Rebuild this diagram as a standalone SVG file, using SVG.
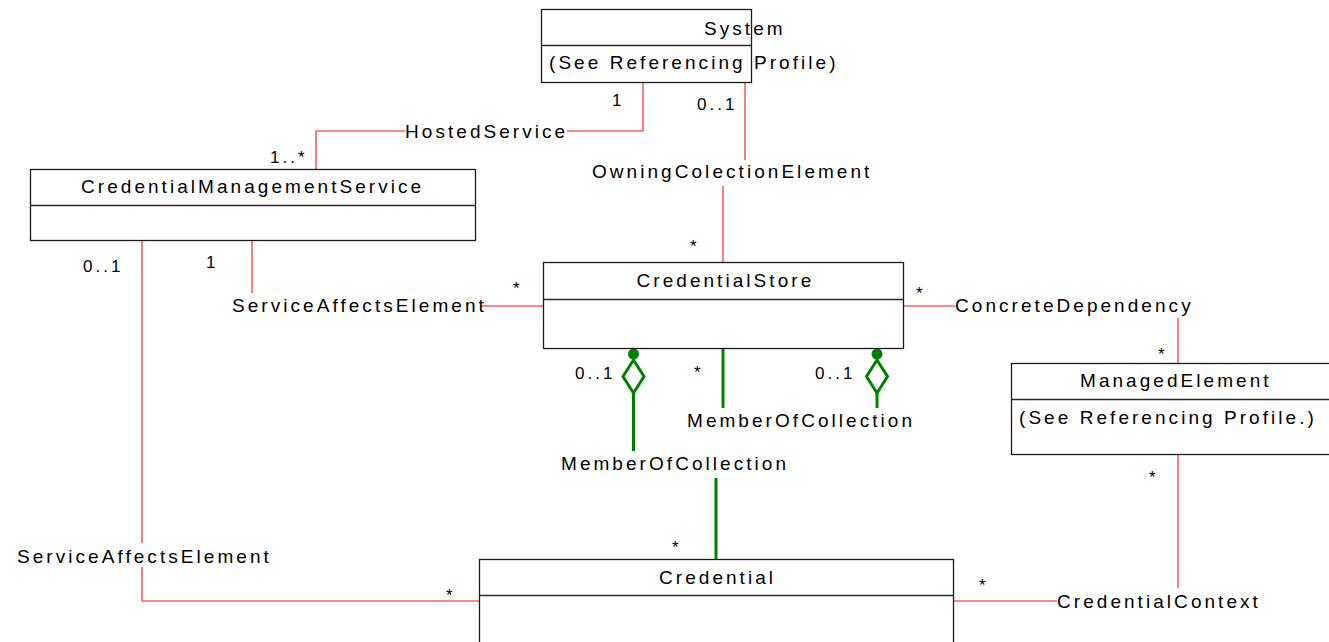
<svg xmlns="http://www.w3.org/2000/svg" width="1329" height="642" viewBox="0 0 1329 642">
  <style>
    .box { fill: #ffffff; stroke: #1a1a1a; stroke-width: 1.3; }
    .div { stroke: #2a2a2a; stroke-width: 1.3; }
    .t { font-family: "Liberation Sans", Arial, sans-serif; font-size: 19px; letter-spacing: 3.05px; fill: #000000; }
    .m { font-family: "Liberation Sans", Arial, sans-serif; font-size: 17px; letter-spacing: 3px; fill: #000000; }
    .assoc { fill: none; stroke: #f01818; stroke-width: 1.1; }
    .agg { fill: none; stroke: #008000; stroke-width: 3; }
    .aggfill { fill: #008000; }
  </style>
  <rect width="1329" height="642" fill="#ffffff"/>

  <!-- association and aggregation lines -->
  <g id="connectors">
    <!-- HostedService -->
    <polyline class="assoc" points="643,82 643,131 567,131"/>
    <polyline class="assoc" points="405,131 316,131 316,169"/>
    <text class="t" x="405" y="137.5">HostedService</text>
    <text class="m" x="612" y="106">1</text>
    <text class="m" x="270" y="163">1..*</text>

    <!-- OwningColectionElement -->
    <line class="assoc" x1="745" y1="82" x2="745" y2="160"/>
    <line class="assoc" x1="723" y1="186" x2="723" y2="262"/>
    <text class="t" x="592" y="178">OwningColectionElement</text>
    <text class="m" x="697" y="110">0..1</text>
    <text class="m" x="690" y="252">*</text>

    <!-- ServiceAffectsElement to CredentialStore -->
    <line class="assoc" x1="252" y1="241" x2="252" y2="293"/>
    <line class="assoc" x1="481" y1="306" x2="543" y2="306"/>
    <text class="t" x="232" y="312">ServiceAffectsElement</text>
    <text class="m" x="206" y="268">1</text>
    <text class="m" x="513" y="294">*</text>

    <!-- ServiceAffectsElement to Credential -->
    <line class="assoc" x1="142" y1="241" x2="142" y2="543"/>
    <polyline class="assoc" points="142,567 142,601 479,601"/>
    <text class="t" x="17" y="562.5">ServiceAffectsElement</text>
    <text class="m" x="83" y="272">0..1</text>
    <text class="m" x="446" y="601">*</text>

    <!-- ConcreteDependency -->
    <line class="assoc" x1="903" y1="306" x2="955" y2="306"/>
    <line class="assoc" x1="1178" y1="318" x2="1178" y2="363"/>
    <text class="t" x="955" y="312">ConcreteDependency</text>
    <text class="m" x="916" y="299">*</text>
    <text class="m" x="1158" y="360">*</text>

    <!-- CredentialContext -->
    <line class="assoc" x1="1178" y1="455" x2="1178" y2="588"/>
    <line class="assoc" x1="953" y1="601" x2="1057" y2="601"/>
    <text class="t" x="1057" y="607.5">CredentialContext</text>
    <text class="m" x="1149" y="483">*</text>
    <text class="m" x="979" y="591">*</text>

    <!-- MemberOfCollection: CredentialStore to Credential -->
    <circle class="aggfill" cx="633.5" cy="354" r="5.5"/>
    <polygon class="agg" points="633.5,360 644,376.5 633.5,393 623,376.5"/>
    <line class="agg" x1="633.5" y1="393" x2="633.5" y2="451"/>
    <line class="agg" x1="716" y1="478" x2="716" y2="559"/>
    <text class="t" x="561" y="470">MemberOfCollection</text>
    <text class="m" x="575" y="379">0..1</text>
    <text class="m" x="672" y="553">*</text>

    <!-- MemberOfCollection: CredentialStore to itself -->
    <line class="agg" x1="723" y1="348" x2="723" y2="408"/>
    <circle class="aggfill" cx="877" cy="354" r="5.5"/>
    <polygon class="agg" points="877,360 887.5,376.5 877,393 866.5,376.5"/>
    <line class="agg" x1="877" y1="393" x2="877" y2="408"/>
    <text class="t" x="687" y="427">MemberOfCollection</text>
    <text class="m" x="694" y="378">*</text>
    <text class="m" x="815" y="379">0..1</text>
  </g>

  <g id="system">
    <rect class="box" x="541.5" y="9.5" width="210" height="73"/>
    <line class="div" x1="541.5" y1="45.5" x2="751.5" y2="45.5"/>
    <text class="t" x="704" y="35">System</text>
    <text class="t" x="549" y="69">(See Referencing Profile)</text>
  </g>

  <g id="credential-management-service">
    <rect class="box" x="30.5" y="169.5" width="445" height="71"/>
    <line class="div" x1="30.5" y1="205.5" x2="475.5" y2="205.5"/>
    <text class="t" x="81" y="193">CredentialManagementService</text>
  </g>

  <g id="credential-store">
    <rect class="box" x="543.5" y="262.5" width="360" height="86"/>
    <line class="div" x1="543.5" y1="299.5" x2="903.5" y2="299.5"/>
    <text class="t" x="636.5" y="287">CredentialStore</text>
  </g>

  <g id="managed-element">
    <rect class="box" x="1011.5" y="363.5" width="340" height="91"/>
    <line class="div" x1="1011.5" y1="399.5" x2="1351.5" y2="399.5"/>
    <text class="t" x="1080" y="387">ManagedElement</text>
    <text class="t" x="1019" y="424">(See Referencing Profile.)</text>
  </g>

  <g id="credential">
    <rect class="box" x="479.5" y="559.5" width="474" height="100"/>
    <line class="div" x1="479.5" y1="595.5" x2="953.5" y2="595.5"/>
    <text class="t" x="659" y="584">Credential</text>
  </g>
</svg>
